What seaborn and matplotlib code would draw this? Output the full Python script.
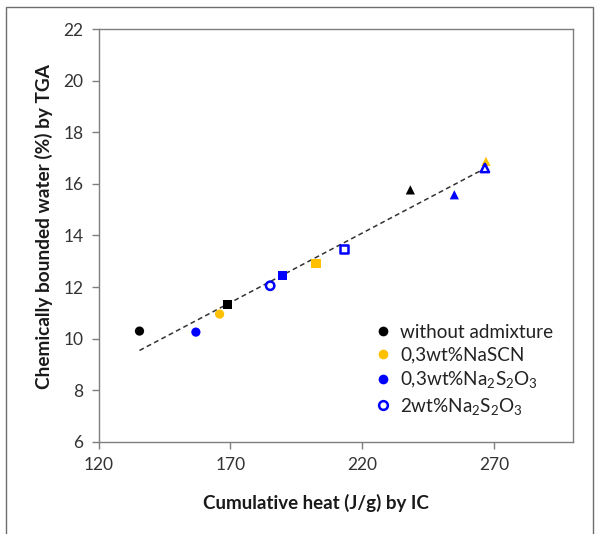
import matplotlib
matplotlib.use("Agg")
import matplotlib.pyplot as plt
from matplotlib.lines import Line2D
from matplotlib.patches import Rectangle
import numpy as np
import pandas as pd
import seaborn as sns

# Measured points: cumulative heat (J/g) vs chemically bound water (%)
groups = ["without admixture", "0,3wt%NaSCN", "0,3wt%Na2S2O3", "2wt%Na2S2O3"]
heat_without = [135.5, 168.9, 238.3]
water_without = [10.29, 11.33, 15.77]
heat_nascn = [165.9, 202.5, 267.0]
water_nascn = [10.95, 12.91, 16.88]
heat_na03 = [156.9, 189.7, 255.0]
water_na03 = [10.25, 12.46, 15.58]
heat_na2 = [185.1, 213.2, 266.6]
water_na2 = [12.05, 13.48, 16.62]
ages = ["circle", "square", "triangle"]

legend_labels = ["without admixture", "0,3wt%NaSCN",
                 "0,3wt%Na$_2$S$_2$O$_3$", "2wt%Na$_2$S$_2$O$_3$"]
x_ticks = [120, 170, 220, 270]
y_ticks = [6, 8, 10, 12, 14, 16, 18, 20, 22]

colors = {"without admixture": "#000000", "0,3wt%NaSCN": "#FFC000",
          "0,3wt%Na2S2O3": "#0000FF", "2wt%Na2S2O3": "#0000FF"}
shape_markers = {"circle": "o", "square": "s", "triangle": "^"}

frames = []
for g, hx, wy in [(groups[0], heat_without, water_without),
                  (groups[1], heat_nascn, water_nascn),
                  (groups[2], heat_na03, water_na03),
                  (groups[3], heat_na2, water_na2)]:
    frames.append(pd.DataFrame({"heat": hx, "water": wy, "group": g, "shape": ages}))
df = pd.concat(frames, ignore_index=True)

sns.set_theme(style="white")
plt.rcParams["font.family"] = ["Lato", "DejaVu Sans"]
plt.rcParams["mathtext.fontset"] = "custom"
plt.rcParams["mathtext.rm"] = "Lato"
plt.rcParams["mathtext.it"] = "Lato"
plt.rcParams["mathtext.bf"] = "Lato:bold"

fig = plt.figure(figsize=(5.98, 5.34), dpi=100)
ax = fig.add_axes([0.165, 0.173, 0.793, 0.772])

# Outer frame around the figure
fig.patches.append(Rectangle((0.0095, -0.05), 0.982, 1.036, transform=fig.transFigure,
                             fill=False, edgecolor="#6e6e6e", linewidth=1.0))

# Linear trend over all points
sns.regplot(data=df, x="heat", y="water", scatter=False, ci=None, truncate=True,
            color="#333333", line_kws={"linestyle": (0, (3.2, 2.2)), "linewidth": 1.1}, ax=ax)

filled = df[df["group"] != groups[3]]
sns.scatterplot(data=filled, x="heat", y="water", hue="group", style="shape",
                palette=colors, markers=shape_markers, s=44, linewidth=0,
                legend=False, ax=ax, zorder=3)
open_df = df[df["group"] == groups[3]]
sns.scatterplot(data=open_df, x="heat", y="water", style="shape",
                markers=shape_markers, s=36, facecolor="white",
                edgecolor="#0000FF", linewidth=1.8, legend=False, ax=ax, zorder=4)

ax.set_xlim(120, 300)
ax.set_ylim(6, 22)
ax.set_xticks(x_ticks)
ax.set_yticks(y_ticks)
ax.tick_params(axis="both", which="both", direction="out", length=5, width=1,
               color="#7f7f7f", labelsize=12.5, labelcolor="#333333",
               bottom=True, left=True, pad=6)
for sp in ax.spines.values():
    sp.set_color("#7f7f7f")
    sp.set_linewidth(1.0)

ax.set_xlabel("Cumulative heat (J/g) by IC", fontsize=13.5, fontweight="bold",
              color="#1a1a1a")
ax.set_ylabel("Chemically bounded water (%) by TGA", fontsize=13.7, fontweight="bold",
              color="#1a1a1a")
ax.xaxis.set_label_coords(0.458, -0.127)
ax.yaxis.set_label_coords(-0.097, 0.521)

handles = [
    Line2D([], [], marker="o", linestyle="", markersize=7, markerfacecolor=colors[groups[0]], markeredgewidth=0),
    Line2D([], [], marker="o", linestyle="", markersize=7, markerfacecolor=colors[groups[1]], markeredgewidth=0),
    Line2D([], [], marker="o", linestyle="", markersize=7, markerfacecolor=colors[groups[2]], markeredgewidth=0),
    Line2D([], [], marker="o", linestyle="", markersize=6.3, markerfacecolor="white",
           markeredgecolor="#0000FF", markeredgewidth=1.8),
]
ax.legend(handles, legend_labels, loc="upper left", bbox_to_anchor=(0.54, 0.327),
          frameon=False, fontsize=13.6, handletextpad=0.3, labelspacing=0.3,
          handlelength=1.2, labelcolor="#222222")

fig.savefig("out.png", dpi=100)
